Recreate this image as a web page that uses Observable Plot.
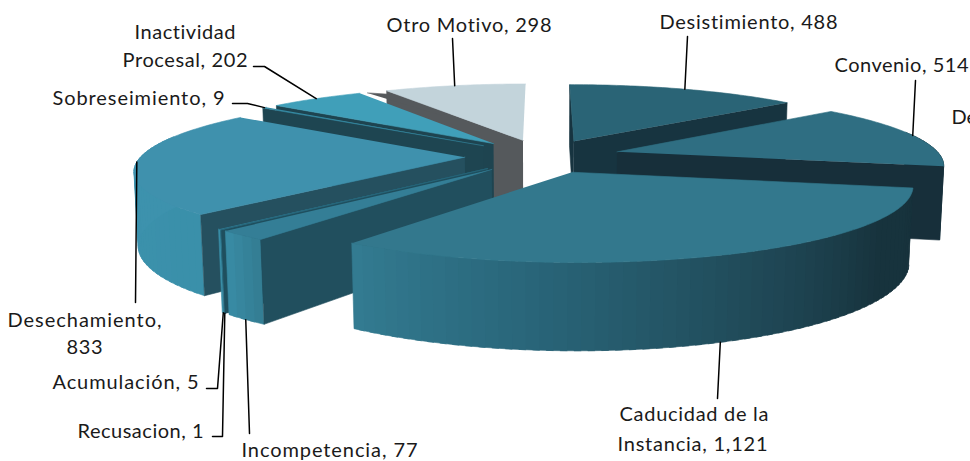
<!DOCTYPE html>
<html><head><meta charset="utf-8">
<style>html,body{margin:0;padding:0;background:#fff}svg{display:block}text{font-variant-ligatures:none;font-feature-settings:"liga" 0}</style>
<script src="https://cdn.jsdelivr.net/npm/d3@7"></script>
<script src="https://cdn.jsdelivr.net/npm/@observablehq/plot@0.6"></script>
</head><body><div id="c"></div>
<script>
const categories=["Desistimiento","Convenio","Caducidad de la Instancia","Incompetencia","Recusacion","Acumulación","Desechamiento","Sobreseimiento","Inactividad Procesal","Otro Motivo"];
const values=[488,514,1121,77,1,5,833,9,202,298];
const topColors=["#2a6476","#2f6e82","#33788d","#347e96","#2c6f85","#2f7a92","#3f91ad","#358aa3","#409fb9","#c3d4db"];
const sideColors=["#173440","#172f3a","#17333d","#214f5e","#1f4f5e","#1f5060","#25505f","#1e4551","#1e4450","#55595c"];

// pie model
const cam={cx:542,cy:155.5,A:323.5,B:70,p:0.16,D:73,q:0.01,explode:0.24};
const rad=d=>d*Math.PI/180;
function proj(a,mid,r,low){
  const u=cam.explode*Math.sin(rad(mid))+r*Math.sin(rad(a));
  const v=cam.explode*Math.cos(rad(mid))+r*Math.cos(rad(a));
  const den=1+cam.p*v+(low?cam.q:0);
  return {x:cam.cx+cam.A*u/den,y:cam.cy+(-cam.B*v+(low?cam.D:0))/den};
}
const wallShade=d3.scaleLinear().domain([100,125,150,190,215,225,310]).range(["#17323c","#17333d","#1f4755","#2a687c","#337b91","#3a90aa","#3f93af"]);

const total=d3.sum(values);
let cum=0;
const slices=values.map((v,i)=>{const a0=cum/total*360;cum+=v;const a1=cum/total*360;return {i,a0,a1,mid:(a0+a1)/2};});
const order=[...slices].sort((s,t)=>Math.cos(rad(t.mid))-Math.cos(rad(s.mid)));
const arcSteps=(a0,a1,st)=>{const n=Math.max(1,Math.ceil((a1-a0)/st));return d3.range(n+1).map(k=>a0+(a1-a0)*k/n);};

const polys=[];let pid=0;
function add(pts,fill){const id=pid++;pts.forEach(p=>polys.push({id,x:p.x,y:p.y,fill}));}
for(const s of order){
  const m=s.mid;
  // outer wall strips, only where they face the viewer; each overlaps the next
  const A=arcSteps(s.a0,s.a1,2).filter(a=>Math.cos(rad(a))<0.3);
  for(let k=0;k<A.length-1;k++){
    const c=(A[k]+A[k+1])/2, over=Math.min(s.a1,A[k+1]+1);
    add([proj(A[k],m,1,false),proj(over,m,1,false),proj(over,m,1,true),proj(A[k],m,1,true)],wallShade(c));
  }
  // radial walls that face the viewer
  const wall=a=>add([proj(a,m,0,false),proj(a,m,1,false),proj(a,m,1,true),proj(a,m,0,true)],sideColors[s.i]);
  if(Math.sin(rad(s.a0))<=0) wall(s.a0);
  if(Math.sin(rad(s.a1))>0) wall(s.a1);
  // the last slice's wall shows a small lip past its corner
  if(s.i===values.length-1) add([proj(s.a0-4.5,m,1,false),proj(s.a0,m,0.91,false),proj(s.a0,m,0.5,false),proj(s.a0-4.5,m,0.5,false)],sideColors[s.i]);
  // top
  add([proj(0,m,0,false),...arcSteps(s.a0,s.a1,1).map(a=>proj(a,m,1,false))],topColors[s.i]);
}

// label layout: text, left, middle, width
const labelLayout=[
 {lines:[["Desistimiento, 488",659,22,178]],via:[[687,36]]},
 {lines:[["Convenio, 514",834,65,134]],via:[[915,80]]},
 {lines:[["Caducidad de la",619,414,149],["Instancia, 1,121",617,444,150]],via:[[717,398]],low:true},
 {lines:[["Incompetencia, 77",241,450,176]],via:[[249,433]],low:true},
 {lines:[["Recusacion, 1",77,431,126]],via:[[212,436],[222,436]],low:true},
 {lines:[["Acumulación, 5",52,382,146]],via:[[206,388],[217,388]],low:true},
 {lines:[["Desechamiento,",7,320,154],["833",66,347,36]],via:[[135,302]]},
 {lines:[["Sobreseimiento, 9",52,98,172]],via:[[232,103],[247,103]]},
 {lines:[["Inactividad",134,32,101],["Procesal, 202",122,60,125]],via:[[253,66],[264,66]]},
 {lines:[["Otro Motivo, 298",386,25,165]],via:[[452,38]]}
];
const texts=labelLayout.flatMap(l=>l.lines.map(([t,x,y,w])=>({t,x,y,w})));
texts.push({t:"De",x:951,y:117,w:null});
const leaders=labelLayout.flatMap((l,i)=>{
  const s=slices[i];const e=proj(s.mid,s.mid,1,!!l.low);
  return [...l.via.map(([x,y])=>({i,x,y})),{i,x:e.x,y:e.y}];
});

const chart=Plot.plot({
  width:970,height:461,margin:0,
  x:{domain:[0,970],range:[0,970],axis:null},
  y:{domain:[0,461],range:[0,461],axis:null},
  color:{type:"identity"},
  marks:[
    Plot.line(polys,{x:"x",y:"y",z:"id",fill:"fill",stroke:"fill",strokeWidth:0.6,curve:"linear"}),
    Plot.line(leaders,{x:"x",y:"y",z:"i",stroke:"#000",strokeWidth:1.5,curve:"linear"}),
    Plot.text(texts,{x:"x",y:"y",text:"t",textAnchor:"start",fontSize:20,fontFamily:"Lato",fill:"#1a1a1a"})
  ]
});
document.getElementById("c").appendChild(chart);
const widthOf=new Map(texts.map(d=>[d.t,d.w]));
chart.querySelectorAll("text").forEach(n=>{const w=widthOf.get(n.textContent);if(w)n.setAttribute("textLength",w);});
</script></body></html>
